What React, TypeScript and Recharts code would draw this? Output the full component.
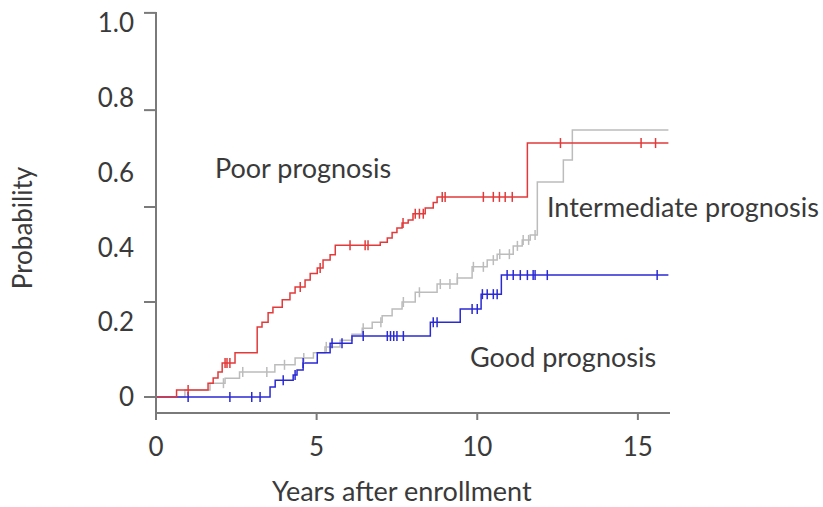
import { ComposedChart, Line, Scatter, XAxis, YAxis } from "recharts";

// cumulative probability step curves (time in years, probability)
const poorTimes = [0, 0.64, 1.62, 1.78, 1.93, 2.06, 2.46, 3.15, 3.3, 3.49, 3.64, 3.93, 4.17, 4.33, 4.64, 4.8, 5.02, 5.2, 5.42, 5.58, 6.98, 7.2, 7.35, 7.5, 7.66, 7.85, 8.0, 8.38, 8.63, 8.75, 11.56, 15.95];
const poorValues = [0, 0.019, 0.037, 0.051, 0.067, 0.091, 0.118, 0.187, 0.2, 0.225, 0.24, 0.26, 0.278, 0.294, 0.313, 0.33, 0.345, 0.366, 0.38, 0.406, 0.414, 0.425, 0.44, 0.452, 0.465, 0.473, 0.49, 0.505, 0.52, 0.535, 0.679, 0.679];
const poorCensored = [1.0, 2.15, 2.21, 2.3, 4.49, 5.11, 6.04, 6.51, 6.6, 7.69, 8.07, 8.2, 8.32, 8.91, 9.0, 10.19, 10.5, 10.69, 10.87, 11.09, 12.59, 15.1, 15.55];

const interTimes = [0, 0.9, 1.68, 2.15, 2.6, 3.7, 4.33, 4.9, 5.26, 5.73, 6.1, 6.42, 6.73, 7.04, 7.35, 7.66, 8.07, 8.75, 9.38, 9.84, 10.31, 10.62, 11.12, 11.4, 11.65, 11.87, 12.68, 12.96, 15.95];
const interValues = [0, 0.019, 0.037, 0.05, 0.067, 0.086, 0.104, 0.118, 0.134, 0.152, 0.168, 0.184, 0.2, 0.217, 0.235, 0.254, 0.28, 0.302, 0.318, 0.348, 0.366, 0.382, 0.404, 0.42, 0.433, 0.575, 0.634, 0.714, 0.714];
const interCensored = [2.1, 2.7, 3.45, 4.0, 4.6, 5.3, 6.45, 7.0, 7.7, 8.2, 8.85, 9.15, 9.38, 9.88, 10.19, 10.5, 10.7, 11.0, 11.25, 11.43, 11.6, 11.8];

const goodTimes = [0, 3.55, 3.71, 4.27, 4.39, 4.58, 5.02, 5.42, 6.1, 8.54, 9.47, 10.12, 10.75, 15.95];
const goodValues = [0, 0.027, 0.045, 0.059, 0.072, 0.091, 0.118, 0.144, 0.163, 0.2, 0.235, 0.275, 0.326, 0.326];
const goodCensored = [1.0, 2.3, 2.98, 3.24, 3.96, 4.33, 4.58, 5.48, 5.79, 6.45, 7.2, 7.3, 7.4, 7.5, 7.7, 8.63, 8.75, 9.84, 10.0, 10.16, 10.31, 10.5, 10.62, 10.93, 11.12, 11.34, 11.56, 11.74, 11.8, 12.18, 15.6];

const xTicks = [0, 5, 10, 15];
const yLabelTicks = [0, 0.2, 0.4, 0.6, 0.8, 1.0];
const yLabels = ["0", "0.2", "0.4", "0.6", "0.8", "1.0"];
// the tick marks on the original axis do not sit on the labels
const yMarkTicks = [0, 0.254, 0.508, 0.767, 1.027];

const AXIS = "#7a7a7a";
const TEXT = "#3a3a3a";
const RED = "#e23a3a";
const GRAY = "#bcbcbc";
const BLUE = "#2a2ad4";
const FONT = "Lato, 'Open Sans', sans-serif";

const toSteps = (times: number[], values: number[]) =>
  times.map((t, i) => ({ x: t, y: values[i] }));

const levelAt = (times: number[], values: number[], t: number) => {
  let v = values[0];
  times.forEach((s, i) => {
    if (s <= t) v = values[i];
  });
  return v;
};

const toCensored = (cens: number[], times: number[], values: number[]) =>
  cens.map((t) => ({ x: t, y: levelAt(times, values, t) }));

const poorData = toSteps(poorTimes, poorValues);
const interData = toSteps(interTimes, interValues);
const goodData = toSteps(goodTimes, goodValues);

const yTicks = Array.from(new Set([...yLabelTicks, ...yMarkTicks])).sort((a, b) => a - b);

function YTick(props: any) {
  const { x, y, payload } = props;
  const v = payload.value;
  const li = yLabelTicks.indexOf(v);
  const isMark = yMarkTicks.includes(v);
  return (
    <g>
      {isMark && <line x1={x - 12} x2={x} y1={y} y2={y} stroke={AXIS} strokeWidth={2} />}
      {li >= 0 && (
        <text x={x - 22} y={y} dy="0.355em" textAnchor="end" fill={TEXT} fontSize={26} fontFamily={FONT}>
          {yLabels[li]}
        </text>
      )}
    </g>
  );
}

const censorShape = (color: string) => (props: any) => {
  const { cx, cy } = props;
  return <line x1={cx} x2={cx} y1={cy - 5} y2={cy + 5} stroke={color} strokeWidth={1.5} />;
};

const label = (text: string, left: number, top: number) => (
  <div
    style={{
      position: "absolute",
      left,
      top,
      fontFamily: FONT,
      fontSize: 27,
      lineHeight: "27px",
      color: TEXT,
      whiteSpace: "nowrap",
    }}
  >
    {text}
  </div>
);

export default function App() {
  return (
    <div style={{ position: "absolute", left: 0, top: 0, width: 823, height: 507, background: "#fff" }}>
      <ComposedChart width={823} height={507} margin={{ top: 12, right: 153, bottom: 0, left: 0 }}>
        <XAxis
          type="number"
          dataKey="x"
          domain={[0, 16]}
          ticks={xTicks}
          interval={0}
          height={94}
          tickSize={7}
          tickMargin={18}
          stroke={AXIS}
          axisLine={{ stroke: AXIS, strokeWidth: 2 }}
          tickLine={{ stroke: AXIS, strokeWidth: 2 }}
          tick={{ fill: TEXT, fontSize: 26, fontFamily: FONT }}
        />
        <YAxis
          type="number"
          dataKey="y"
          domain={[-0.0428, 1.0294]}
          allowDataOverflow
          ticks={yTicks}
          interval={0}
          width={156}
          tickSize={0}
          tickMargin={0}
          tickLine={false}
          axisLine={{ stroke: AXIS, strokeWidth: 2 }}
          tick={<YTick />}
        />
        <Line data={interData} dataKey="y" type="stepAfter" stroke={GRAY} strokeWidth={1.5} dot={false} isAnimationActive={false} />
        <Line data={goodData} dataKey="y" type="stepAfter" stroke={BLUE} strokeWidth={1.5} dot={false} isAnimationActive={false} />
        <Line data={poorData} dataKey="y" type="stepAfter" stroke={RED} strokeWidth={1.5} dot={false} isAnimationActive={false} />
        <Scatter data={toCensored(interCensored, interTimes, interValues)} shape={censorShape(GRAY)} isAnimationActive={false} />
        <Scatter data={toCensored(goodCensored, goodTimes, goodValues)} shape={censorShape(BLUE)} isAnimationActive={false} />
        <Scatter data={toCensored(poorCensored, poorTimes, poorValues)} shape={censorShape(RED)} isAnimationActive={false} />
      </ComposedChart>
      {label("Poor prognosis", 215, 154)}
      {label("Intermediate prognosis", 547, 193)}
      {label("Good prognosis", 470, 343)}
      {label("Years after enrollment", 272, 477)}
      <div
        style={{
          position: "absolute",
          left: 22,
          top: 228,
          transform: "translate(-50%, -50%) rotate(-90deg)",
          fontFamily: FONT,
          fontSize: 26,
          lineHeight: "26px",
          color: TEXT,
          whiteSpace: "nowrap",
        }}
      >
        Probability
      </div>
    </div>
  );
}
